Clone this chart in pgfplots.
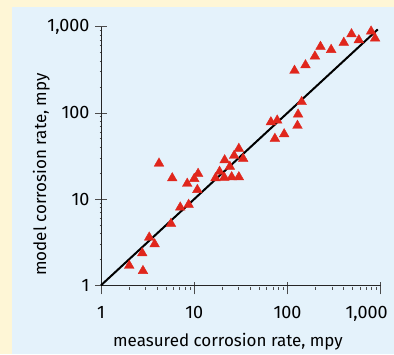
\documentclass[border=0pt]{standalone}
\usepackage{pgfplots}
\pgfplotsset{compat=1.18}
\usepackage{fontspec}
\setmainfont{Fira Sans}
\definecolor{bgY}{HTML}{FEF6D6}
\definecolor{bgB}{HTML}{E4F2FB}
\definecolor{tri}{HTML}{E0261C}
\pgfplotstableread{
x y
4.19 25.9
5.81 17.5
8.41 15.1
10.0 17.2
11.0 19.7
10.8 12.8
7.08 8.01
8.71 8.61
5.63 5.18
3.29 3.59
3.76 3.00
2.77 2.36
2.01 1.69
2.82 1.47
73.3 50.2
92.2 56.7
30.1 38.4
26.8 31.9
33.5 29.4
21.2 28.3
24.1 23.8
18.7 20.8
16.9 17.5
21.0 17.8
25.2 18.0
30.1 18.0
128 71.1
130 96.0
142 134
66.4 78.1
77.6 81.8
119 309
156 358
197 453
226 586
294 540
402 652
486 820
583 699
789 882
871 731
}\datatable
\begin{document}
\begin{tikzpicture}
\fill[bgY] (0pt,0pt) rectangle (394pt,354pt);
\fill[bgB] (12pt,0pt) rectangle (394pt,347.3pt);
\useasboundingbox (0pt,0pt) rectangle (394pt,354pt);
\begin{axis}[
  at={(101pt,68.7pt)}, anchor=south west,
  scale only axis, width=279.7pt, height=258.6pt,
  xmode=log, ymode=log,
  xmin=1, xmax=1000, ymin=1, ymax=1000,
  axis x line=bottom, axis y line=left,
  axis line style={-, line width=0.8pt, black!85},
  clip=false,
  xtick={1,10,100,1000}, xticklabels={1,10,100,{\hspace*{-28pt}1,000}},
  ytick={1,10,100,1000}, yticklabels={1,10,100,{1,000}},
  minor tick num=0, minor xtick={}, minor ytick={},
  tick align=center, major tick length=12pt,
  tick style={line width=0.8pt, black!70},
  xtick style={yshift=-3pt},
  /pgf/number format/assume math mode=true,
  ticklabel style={font=\fontsize{18}{18}\selectfont},
  xticklabel style={anchor=base, yshift=-27pt},
  yticklabel style={anchor=east, xshift=-2pt},
  label style={font=\fontsize{17}{17}\selectfont},
  xlabel={measured corrosion rate, mpy},
  xlabel style={at={(axis description cs:0.454,-0.2374)}, anchor=base},
  ylabel={model corrosion rate, mpy},
  ylabel style={at={(axis description cs:-0.1966,0.428)}, anchor=base},
]
\addplot[black, line width=2pt] coordinates {(1,1) (930,930)};
\addplot[only marks, mark=triangle*, mark size=5.6pt, color=tri, mark options={draw=tri, fill=tri}] table[x=x,y=y] {\datatable};
\end{axis}
\end{tikzpicture}
\end{document}
